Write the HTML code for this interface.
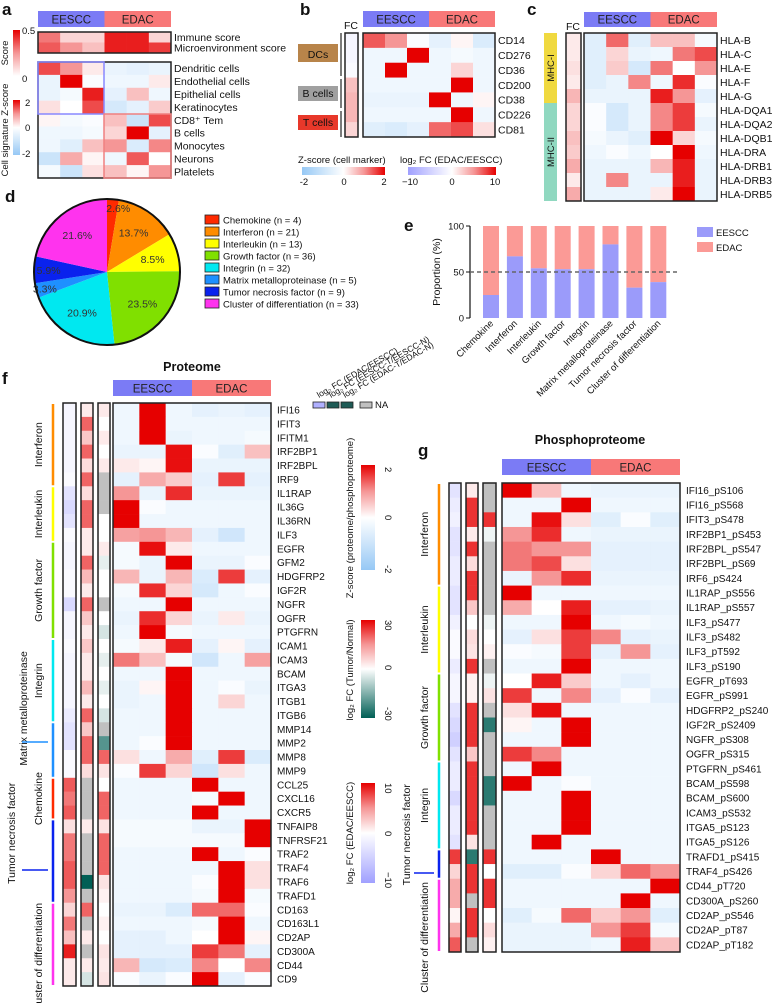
<!DOCTYPE html>
<html><head><meta charset="utf-8"><style>
body{margin:0;background:#fff}
svg{display:block;font-family:"Liberation Sans",Arial,sans-serif}
</style></head><body>
<svg id="fig" width="780" height="1004" viewBox="0 0 780 1004" xmlns="http://www.w3.org/2000/svg"></svg>
<script>
// ---------- DATA ----------
const aScoreRows=["Immune score","Microenvironment score"];
const aScoreVals=[[0.3,0.1,0.1,0.45,0.45,0.1],[0.35,0.25,0.15,0.45,0.45,0.4]];
const aSigRows=["Dendritic cells","Endothelial cells","Epithelial cells","Keratinocytes","CD8⁺ Tem","B cells","Monocytes","Neurons","Platelets"];
const aSigVals=[[1.5,1,0.2,-0.4,-0.5,-0.4],[-0.4,2,-0.1,-0.3,-0.3,0.2],[-0.4,-0.2,1.8,-0.5,0.6,-0.3],[0.3,0,1.5,-0.8,-0.5,0.5],[0.1,-0.2,-0.1,0.6,-1,1.5],[-0.3,-0.3,-0.2,0.4,2,-0.5],[-0.3,-0.6,0.6,1,-0.7,1.1],[-1,0.8,0.1,-0.3,1.4,0],[-0.2,-1,0.3,0.6,0.1,1]];
const bRows=["CD14","CD276","CD36","CD200","CD38","CD226","CD81"];
const bVals=[[1.4,1,-0.1,-0.5,0.1,-0.7],[-0.3,-0.3,2,-0.3,-0.2,-0.3],[-0.3,2,-0.3,-0.3,0.4,-0.3],[-0.3,-0.3,-0.3,-0.3,2,-0.3],[-0.4,-0.4,-0.4,2,-0.3,0.1],[-0.3,-0.3,-0.3,-0.3,2,-0.3],[-0.6,-0.7,-0.5,1.3,1.5,0.3]];
const bFC=[-1,-1,-0.5,3,3.5,3.5,2];
const cRows=["HLA-B","HLA-C","HLA-E","HLA-F","HLA-G","HLA-DQA1","HLA-DQA2","HLA-DQB1","HLA-DRA","HLA-DRB1","HLA-DRB3","HLA-DRB5"];
const cVals=[[-0.6,1.3,-0.6,0.6,0.6,-0.2],[-0.6,0.4,-0.4,-0.3,1.2,1.5],[-0.6,0.5,-0.8,1.2,0,1],[-0.6,-0.4,1.1,-0.3,1.7,-0.1],[-0.4,-0.4,-0.4,1.8,1,-0.5],[-0.1,-0.8,-0.4,1.1,1.6,-0.2],[-0.1,-0.8,-0.4,1.1,1.6,-0.4],[-0.2,-0.4,-0.6,2,0.4,-0.2],[-0.3,-0.1,-0.3,0,2,-0.3],[-0.4,-0.4,-0.4,0.7,1.8,-0.4],[-0.4,1.1,-0.4,-0.4,1.8,-0.4],[-0.4,-0.4,-0.4,0.2,2,-0.4]];
const cFC=[1,1,1.5,1,3.5,2,2,3,2.5,4,1,4];
const pieCats=["Chemokine","Interferon","Interleukin","Growth factor","Integrin","Matrix metalloproteinase","Tumor necrosis factor","Cluster of differentiation"];
const pieCounts=[4,21,13,36,32,5,9,33];
const pieColors=["#ff2a00","#ff8c00","#ffff00","#80e000","#00e8f0","#1e90ff","#0a22ee","#ff33ee"];
const eEESCC=[25,67,54,53,53,80,33,39];
const fRows=["IFI16","IFIT3","IFITM1","IRF2BP1","IRF2BPL","IRF9","IL1RAP","IL36G","IL36RN","ILF3","EGFR","GFM2","HDGFRP2","IGF2R","NGFR","OGFR","PTGFRN","ICAM1","ICAM3","BCAM","ITGA3","ITGB1","ITGB6","MMP14","MMP2","MMP8","MMP9","CCL25","CXCL16","CXCR5","TNFAIP8","TNFRSF21","TRAF2","TRAF4","TRAF6","TRAFD1","CD163","CD163L1","CD2AP","CD300A","CD44","CD9"];
const fVals=[[-0.3,2,-0.3,-0.5,-0.4,-0.5],[-0.3,2,-0.3,-0.3,-0.3,-0.3],[-0.3,2,-0.4,-0.3,-0.3,-0.2],[-0.4,-0.4,1.9,-0.1,-0.6,0.6],[0.2,0.1,1.9,-0.4,-0.4,-0.4],[-0.5,0.8,0.5,-0.5,1.6,-0.5],[1,-0.4,1.7,-0.4,-0.4,-0.4],[2,-0.1,-0.3,-0.3,-0.3,-0.3],[2,-0.3,-0.3,-0.3,-0.3,-0.3],[0.9,1,0.7,-0.5,-0.9,-0.3],[-0.2,1.9,0.2,-0.3,-0.3,-0.3],[-0.2,-0.4,2,-0.4,-0.4,-0.1],[0.7,-0.4,0.7,-0.7,1.6,-0.5],[-0.2,1.7,0.4,-0.8,-0.3,-0.1],[-0.3,-0.3,2,-0.3,-0.3,-0.3],[-0.4,1.7,0.4,-0.4,0.2,-0.4],[-0.3,2,-0.2,-0.3,-0.3,-0.3],[-0.2,0.2,1.8,-0.5,0.1,-0.5],[1.2,0.6,-0.2,-0.9,-0.3,0.9],[-0.3,-0.3,2,-0.3,-0.3,-0.3],[-0.4,0.1,2,-0.3,-0.1,-0.4],[-0.4,-0.3,2,-0.3,0.4,-0.3],[-0.3,-0.3,2,-0.3,-0.3,-0.3],[-0.3,-0.3,2,-0.3,-0.3,-0.3],[-0.3,-0.1,2,-0.3,-0.3,-0.3],[0.3,-0.3,0.8,-0.6,1.6,-0.7],[-0.1,1.6,0.4,-0.9,0.3,-0.3],[-0.3,-0.3,-0.3,2,-0.3,-0.3],[-0.3,-0.3,-0.3,-0.2,2,-0.3],[-0.3,-0.3,-0.3,2,-0.3,-0.3],[-0.2,-0.2,-0.2,-0.4,-0.4,2],[-0.2,-0.2,-0.2,-0.2,-0.2,2],[-0.3,-0.3,-0.3,2,-0.3,-0.1],[-0.3,-0.3,-0.3,-0.3,2,0.3],[-0.3,-0.3,-0.3,-0.1,2,0.3],[-0.3,-0.3,-0.3,-0.2,2,-0.2],[-0.4,-0.4,-0.7,1.3,1.3,-0.1],[-0.3,-0.3,-0.3,-0.2,2,-0.3],[-0.5,-0.5,-0.3,0,2,0.1],[-0.5,-0.5,-0.5,1.6,1.2,-0.5],[0.7,-0.8,-0.7,1.1,0,1.1],[-0.1,-0.4,-0.1,2,-0.5,-0.1]];
const fFC=[-1,-1,-1,-1,-1,-0.5,-3,-4,-3,-0.5,-1,-1,-0.5,-0.5,-4,-1,-1,-0.5,-1,-1,-1,-1,-2,-3,-3,-0.5,-0.5,7,6,7,1.5,6,6,7,7,5,2,6,3,9,1,1];
const fTN1=[3,20,8,20,5,20,5,20,20,3,3,20,10,3,20,8,3,8,3,3,10,3,20,8,20,20,5,null,null,null,3,null,null,null,-30,null,20,null,3,null,3,-5];
const fTN2=[3,0,3,0,3,null,null,null,0,0,3,-3,0,0,null,0,-5,0,-3,0,-3,0,-5,null,-20,20,4,0,20,20,4,20,20,20,4,2,0,2,0,4,3,4];
const fGroups=[[0,5,1],[6,9,2],[10,16,3],[17,22,4],[23,26,5],[27,29,0],[30,35,6],[36,41,7]];
const gRows=["IFI16_pS106","IFI16_pS568","IFIT3_pS478","IRF2BP1_pS453","IRF2BPL_pS547","IRF2BPL_pS69","IRF6_pS424","IL1RAP_pS556","IL1RAP_pS557","ILF3_pS477","ILF3_pS482","ILF3_pT592","ILF3_pS190","EGFR_pT693","EGFR_pS991","HDGFRP2_pS240","IGF2R_pS2409","NGFR_pS308","OGFR_pS315","PTGFRN_pS461","BCAM_pS598","BCAM_pS600","ICAM3_pS532","ITGA5_pS123","ITGA5_pS126","TRAFD1_pS415","TRAF4_pS426","CD44_pT720","CD300A_pS260","CD2AP_pS546","CD2AP_pT87","CD2AP_pT182"];
const gVals=[[2,0.6,-0.3,-0.4,-0.4,-0.4],[-0.3,-0.3,2,-0.3,-0.3,-0.3],[-0.3,1.9,0.3,-0.6,-0.1,-0.6],[1,1.7,-0.3,-0.4,-0.4,-0.4],[1.2,1,1,-0.5,-0.5,-0.5],[1.2,1.5,0.3,-0.5,-0.5,-0.5],[-0.4,1,1.7,-0.4,-0.4,-0.4],[2,-0.3,-0.3,-0.3,-0.3,-0.3],[0.8,0,1.8,-0.5,-0.5,-0.4],[-0.3,-0.3,2,-0.3,-0.2,-0.3],[-0.5,0.3,1.6,1.1,-0.5,-0.4],[-0.1,-0.2,1.6,-0.5,1,-0.5],[-0.3,-0.3,2,-0.3,-0.3,-0.3],[0,1.8,0.5,-0.3,-0.5,-0.3],[1.6,-0.3,1.1,-0.5,-0.1,-0.5],[0.3,1.9,-0.3,-0.3,-0.3,-0.3],[0.1,-0.3,2,-0.3,-0.3,-0.3],[-0.3,-0.3,2,-0.3,-0.3,-0.3],[1.6,1.1,-0.3,-0.3,-0.3,-0.3],[-0.3,2,-0.3,-0.3,-0.3,-0.3],[2,-0.3,-0.1,-0.3,-0.3,-0.3],[-0.3,-0.3,2,-0.3,-0.3,-0.3],[-0.3,-0.3,2,-0.3,-0.3,-0.3],[-0.3,-0.3,2,-0.3,-0.3,-0.3],[-0.3,2,-0.3,-0.3,-0.3,-0.3],[-0.3,-0.3,-0.3,2,-0.3,-0.3],[-0.6,-0.6,-0.1,0.4,1.3,1],[-0.3,-0.3,-0.3,-0.3,-0.3,2],[-0.3,-0.3,-0.3,-0.3,2,-0.3],[-0.6,-0.2,1.3,0.5,1,-0.6],[-0.4,-0.4,-0.4,1,1.6,-0.2],[-0.4,-0.4,-0.4,-0.3,1.8,0.6]];
const gFC=[-3,-2,-1.5,-3,-3,-2,-2,-3,-3,-1.5,-0.5,-0.5,-2,-1,-1,-3,-4,-5,-3,-2,-2,-4,-2,-2,-3,8,2,4,4,0.5,4,7];
const gTN1=[3,25,25,3,25,5,25,25,8,0,5,4,25,2,2,25,25,25,8,25,25,25,25,25,4,-25,25,25,null,25,25,null];
const gTN2=[null,null,25,-2,null,null,null,null,null,-2,0,2,null,-2,4,null,-25,null,null,null,-25,-25,null,null,null,25,0,25,25,0,5,2];
const gGroups=[[0,6,1],[7,12,2],[13,18,3],[19,24,4],[25,26,6],[27,31,7]];

// ---------- HELPERS ----------
const NS="http://www.w3.org/2000/svg";
const svg=document.getElementById("fig");
function mk(tag,at,parent){const e=document.createElementNS(NS,tag);for(const k in at)e.setAttribute(k,at[k]);(parent||svg).appendChild(e);return e;}
function txt(x,y,s,size,opt){opt=opt||{};const e=mk("text",{x:x,y:y,"font-size":size,fill:opt.fill||"#111","text-anchor":opt.anchor||"start","font-weight":opt.bold?"bold":"normal"});if(opt.rot)e.setAttribute("transform","rotate("+opt.rot+" "+x+" "+y+")");e.textContent=s;return e;}
function lerp(a,b,t){return a.map((v,i)=>Math.round(v+(b[i]-v)*t));}
function rgb(c){return "rgb("+c.join(",")+")";}
function posRed(t){t=Math.max(0,Math.min(1,t));return t<0.5?lerp([255,255,255],[245,150,150],t*2):lerp([245,150,150],[230,0,0],(t-0.5)*2);}
function zcol(v){return v>=0?rgb(posRed(v/2)):rgb(lerp([255,255,255],[150,200,245],Math.min(1,-v/2)));}
function purp(v){return v>=0?rgb(posRed(v/10)):rgb(lerp([255,255,255],[160,160,255],Math.min(1,-v/10)));}
function teal(v){if(v===null)return "#c0c0c0";return v>=0?rgb(posRed(v/30)):rgb(lerp([255,255,255],[0,95,85],Math.min(1,-v/30)));}
function scol(v){return rgb(posRed(v/0.5));}
function heat(x,y,w,h,vals,fn,name,bw){const nr=vals.length,nc=vals[0].length,cw=w/nc,rh=h/nr;
 vals.forEach((row,i)=>row.forEach((v,j)=>{const r=mk("rect",{x:x+j*cw,y:y+i*rh,width:cw+0.3,height:rh+0.3,fill:fn(v)});
  
  }));
 const b=mk("rect",{x:x,y:y,width:w,height:h,fill:"none",stroke:"#222","stroke-width":bw||1.5});
 
 }
function col(x,y,w,h,vals,fn,name){heat(x,y,w,h,vals.map(v=>[v]),fn,name,1.5);}
function header(x,y,w,h){const a=mk("rect",{x:x,y:y,width:w/2,height:h,fill:"#7b7bf5"});
 
 
 const b=mk("rect",{x:x+w/2,y:y,width:w/2,height:h,fill:"#f87878"});
 
 
 txt(x+w/4,y+h-3.5,"EESCC",11.5,{anchor:"middle",fill:"#222"});txt(x+3*w/4,y+h-3.5,"EDAC",11.5,{anchor:"middle",fill:"#222"});}
function labels(x,y,rh,arr,size){arr.forEach((s,i)=>{const t=txt(x,y+rh*(i+0.5)+size*0.36,s,size);
 
 });}
function grad(id,stops,vert){const d=mk("defs",{});const g=mk("linearGradient",{id:id,x1:0,y1:vert?1:0,x2:vert?0:1,y2:0},d);stops.forEach((c,i)=>mk("stop",{offset:i/(stops.length-1),"stop-color":c},g));}
function cbar(x,y,w,h,id,name){const r=mk("rect",{x:x,y:y,width:w,height:h,fill:"url(#"+id+")"});
 
 }
function panel(x,y,s){const t=txt(x,y,s,17,{bold:true});
 
 }
const zStops=[zcol(-2),zcol(-1),zcol(0),zcol(1),zcol(2)];
const pStops=[purp(-10),purp(-5),purp(0),purp(5),purp(10)];
const tStops=[teal(-30),teal(-15),teal(0),teal(15),teal(30)];
grad("gz",zStops,false);grad("gp",pStops,false);grad("gzv",zStops,true);grad("gpv",pStops,true);grad("gtv",tStops,true);
grad("gs",[scol(0),scol(0.25),scol(0.5)],true);

// ---------- PANEL A ----------
panel(2,15,"a");
header(38,11,133,16);
heat(38,32,133,21,aScoreVals,scol,"score-heatmap");
heat(38,62,133,116,aSigVals,zcol,"cell-signature-heatmap");
{const r=mk("rect",{x:38,y:62,width:66,height:52,fill:"none",stroke:"#8888ff","stroke-width":1.5});
 const q=mk("rect",{x:104,y:114,width:67,height:64,fill:"none",stroke:"#f08080","stroke-width":1.5});}
labels(174,32,10.5,aScoreRows,10.5);labels(174,62,12.9,aSigRows,10.5);
cbar(13,30,7,46,"gs","score-colorbar");txt(22,34,"0.5",9.5);txt(22,82,"0",9.5);txt(8,53,"Score",9.5,{anchor:"middle",rot:-90});
cbar(13,100,7,55,"gzv","zscore-colorbar");txt(25,106,"2",9.5);txt(25,131,"0",9.5);txt(22,157,"-2",9.5);
txt(8,130,"Cell signature Z-score",9.5,{anchor:"middle",rot:-90});

// ---------- PANEL B ----------
panel(300,15,"b");
header(363,11,132,16);
txt(351,29,"FC",10.5,{anchor:"middle"});
col(345,33,13,104,bFC,purp,"b-fc-column");
heat(363,33,132,104,bVals,zcol,"b-heatmap");
labels(498,33,104/7,bRows,10.5);
[[44,62,"#b8844a","DCs"],[86,101,"#a0a0a0","B cells"],[115,130,"#e8382a","T cells"]].forEach(g=>{const r=mk("rect",{x:298,y:g[0],width:40,height:g[1]-g[0],fill:g[2]});txt(318,g[1]-4,g[3],10.5,{anchor:"middle"});});
mk("line",{x1:341,y1:33,x2:341,y2:76,stroke:"#222","stroke-width":1.2});mk("line",{x1:341,y1:79,x2:341,y2:108,stroke:"#222","stroke-width":1.2});mk("line",{x1:341,y1:111,x2:341,y2:137,stroke:"#222","stroke-width":1.2});
txt(298,163,"Z-score (cell marker)",9.5);cbar(302,167,83,8,"gz","b-zscore-colorbar");txt(304,185,"-2",9.5,{anchor:"middle"});txt(344,185,"0",9.5,{anchor:"middle"});txt(384,185,"2",9.5,{anchor:"middle"});
txt(400,163,"log₂ FC (EDAC/EESCC)",9.5);cbar(408,167,88,8,"gp","b-fc-colorbar");txt(410,185,"−10",9.5,{anchor:"middle"});txt(452,185,"0",9.5,{anchor:"middle"});txt(495,185,"10",9.5,{anchor:"middle"});

// ---------- PANEL C ----------
panel(527,15,"c");
header(584,12,133,15);
txt(573,30,"FC",10.5,{anchor:"middle"});
col(566,33,15,168,cFC,purp,"c-fc-column");
heat(584,33,133,168,cVals,zcol,"c-heatmap");
labels(720,33,14,cRows,10.5);
{const r=mk("rect",{x:544,y:33,width:13,height:70,fill:"#f0d940"});
 const q=mk("rect",{x:544,y:103,width:13,height:98,fill:"#90d8c0"});}
txt(554,68,"MHC-I",9.5,{anchor:"middle",rot:-90});txt(554,152,"MHC-II",9.5,{anchor:"middle",rot:-90});

// ---------- PANEL D ----------
panel(5,202,"d");
{const cx=107,cy=272,R=73,tot=pieCounts.reduce((a,b)=>a+b,0);let a0=0;const labs=[];
 pieCounts.forEach((n,i)=>{const a1=a0+n/tot*2*Math.PI;const p=(a)=>[cx+R*Math.sin(a),cy-R*Math.cos(a)];const s=p(a0),e=p(a1);
  const path=mk("path",{d:"M"+cx+","+cy+"L"+s[0]+","+s[1]+"A"+R+","+R+" 0 "+(a1-a0>Math.PI?1:0)+" 1 "+e[0]+","+e[1]+"Z",fill:pieColors[i]});
  
  
  labs.push([(a0+a1)/2,n]);a0=a1;});
 labs.forEach(l=>{const am=l[0],n=l[1],rr=n<6?0.88:(n<10?0.8:0.65);const pct=(n/tot*100).toFixed(1)+"%";
  txt(cx+rr*R*Math.sin(am)+(n<6&&am<1?6:0),cy-rr*R*Math.cos(am)+4,pct,10.5,{anchor:"middle",fill:"#333"});});
 mk("circle",{cx:cx,cy:cy,r:R,fill:"none",stroke:"#111","stroke-width":2});
 pieCats.forEach((c,i)=>{const y=215+i*12;const r=mk("rect",{x:205,y:y,width:14,height:9,fill:pieColors[i],stroke:"#222","stroke-width":0.8});
  
  
  txt(223,y+8.5,c+" (n = "+pieCounts[i]+")",9.5);});}

// ---------- PANEL E ----------
panel(404,231,"e");
{const x0=470,yb=318,yt=226,ys=v=>yb-(yb-yt)*v/100;
 mk("line",{x1:x0,y1:yt,x2:x0,y2:yb,stroke:"#111","stroke-width":1.2});
 [0,50,100].forEach(v=>{mk("line",{x1:x0-4,y1:ys(v),x2:x0,y2:ys(v),stroke:"#111"});txt(x0-6,ys(v)+3.5,String(v),9.5,{anchor:"end"});});
 txt(440,272,"Proportion (%)",10.5,{anchor:"middle",rot:-90});
 eEESCC.forEach((v,i)=>{const bx=483+i*23.9;
  const r1=mk("rect",{x:bx,y:ys(100),width:16,height:ys(v)-ys(100),fill:"#fb9a96"});
  const r2=mk("rect",{x:bx,y:ys(v),width:16,height:ys(0)-ys(v),fill:"#9b9bfa"});
  txt(bx+11,yb+6,pieCats[i],9.5,{anchor:"end",rot:-45});});
 mk("line",{x1:x0,y1:ys(50),x2:680,y2:ys(50),stroke:"#666","stroke-width":1.5,"stroke-dasharray":"4,3"});
 const l1=mk("rect",{x:697,y:227,width:16,height:10,fill:"#9b9bfa"});txt(716,236,"EESCC",9.5);
 const l2=mk("rect",{x:697,y:242,width:16,height:10,fill:"#fb9a96"});txt(716,251,"EDAC",9.5);}

// ---------- PANEL F ----------
panel(2,384,"f");
txt(192,371,"Proteome",12.5,{anchor:"middle",bold:true});
header(113,380,158,16);
{const top=403,H=583,rh=H/fRows.length;
 col(63,top,13,H,fFC,purp,"f-fc-column");col(81,top,12,H,fTN1,teal,"f-eescc-tn-column");col(98,top,12,H,fTN2,teal,"f-edac-tn-column");
 heat(113,top,158,H,fVals,zcol,"f-heatmap");labels(277,top,rh,fRows,10);
 fGroups.forEach(g=>{const l=mk("line",{x1:53,y1:top+g[0]*rh+1,x2:53,y2:top+(g[1]+1)*rh-1,stroke:pieColors[g[2]],"stroke-width":2.5});});
 txt(42,top+3*rh,"Interferon",10.5,{anchor:"middle",rot:-90});txt(42,top+8*rh,"Interleukin",10.5,{anchor:"middle",rot:-90});
 txt(42,top+13.5*rh,"Growth factor",10.5,{anchor:"middle",rot:-90});txt(42,top+20*rh,"Integrin",10.5,{anchor:"middle",rot:-90});
 txt(27,top+22*rh,"Matrix metalloproteinase",10.5,{anchor:"middle",rot:-90});mk("line",{x1:22,y1:742,x2:48,y2:742,stroke:"#1e90ff","stroke-width":1.5});
 txt(42,top+28.5*rh,"Chemokine",10.5,{anchor:"middle",rot:-90});
 txt(15,top+31*rh,"Tumor necrosis factor",10.5,{anchor:"middle",rot:-90});mk("line",{x1:22,y1:870,x2:48,y2:870,stroke:"#0a22ee","stroke-width":1.5});
 txt(42,top+40*rh,"Cluster of differentiation",10.5,{anchor:"middle",rot:-90});}
{[["#b0b0ff",313],["#1e5a55",327],["#1e5a55",341]].forEach(k=>{const r=mk("rect",{x:k[1],y:402,width:12,height:6,fill:k[0],stroke:"#222","stroke-width":0.8});});
 const na=mk("rect",{x:360,y:402,width:12,height:6,fill:"#c0c0c0",stroke:"#222","stroke-width":0.8});txt(375,408,"NA",9.5);
 txt(319,398,"log₂ FC (EDAC/EESCC)",8.5,{rot:-30});txt(331,398,"log₂ FC (EESCC-T/EESCC-N)",8.5,{rot:-30});txt(345,398,"log₂ FC (EDAC-T/EDAC-N)",8.5,{rot:-30});
 cbar(361,465,14,105,"gzv","f-zscore-colorbar");txt(385,467,"2",9.5,{rot:90});txt(385,515,"0",9.5,{rot:90});txt(385,565,"-2",9.5,{rot:90});txt(353,518,"Z-score (proteome/phosphoproteome)",9.5,{anchor:"middle",rot:-90});
 cbar(361,620,14,98,"gtv","f-tumor-normal-colorbar");txt(385,620,"30",9.5,{rot:90});txt(385,665,"0",9.5,{rot:90});txt(385,707,"-30",9.5,{rot:90});txt(353,670,"log₂ FC (Tumor/Normal)",9.5,{anchor:"middle",rot:-90});
 cbar(361,783,14,100,"gpv","f-fc-colorbar");txt(385,783,"10",9.5,{rot:90});txt(385,831,"0",9.5,{rot:90});txt(385,872,"−10",9.5,{rot:90});txt(353,833,"log₂ FC (EDAC/EESCC)",9.5,{anchor:"middle",rot:-90});}

// ---------- PANEL G ----------
panel(418,456,"g");
txt(590,444,"Phosphoproteome",12.5,{anchor:"middle",bold:true});
header(502,459,178,16);
{const top=483,H=469,rh=H/gRows.length;
 col(449,top,12,H,gFC,purp,"g-fc-column");col(466,top,12,H,gTN1,teal,"g-eescc-tn-column");col(483,top,13,H,gTN2,teal,"g-edac-tn-column");
 heat(502,top,178,H,gVals,zcol,"g-heatmap");labels(686,top,rh,gRows,10);
 gGroups.forEach(g=>{const l=mk("line",{x1:439,y1:top+g[0]*rh+1,x2:439,y2:top+(g[1]+1)*rh-1,stroke:pieColors[g[2]],"stroke-width":2.5});});
 txt(428,top+3.5*rh,"Interferon",10.5,{anchor:"middle",rot:-90});txt(428,top+10*rh,"Interleukin",10.5,{anchor:"middle",rot:-90});
 txt(428,top+16*rh,"Growth factor",10.5,{anchor:"middle",rot:-90});txt(428,top+22*rh,"Integrin",10.5,{anchor:"middle",rot:-90});
 txt(410,top+24*rh,"Tumor necrosis factor",10.5,{anchor:"middle",rot:-90});mk("line",{x1:414,y1:873,x2:434,y2:873,stroke:"#0a22ee","stroke-width":1.5});
 txt(428,top+31*rh,"Cluster of differentiation",10.5,{anchor:"middle",rot:-90});}
</script>
</body></html>
